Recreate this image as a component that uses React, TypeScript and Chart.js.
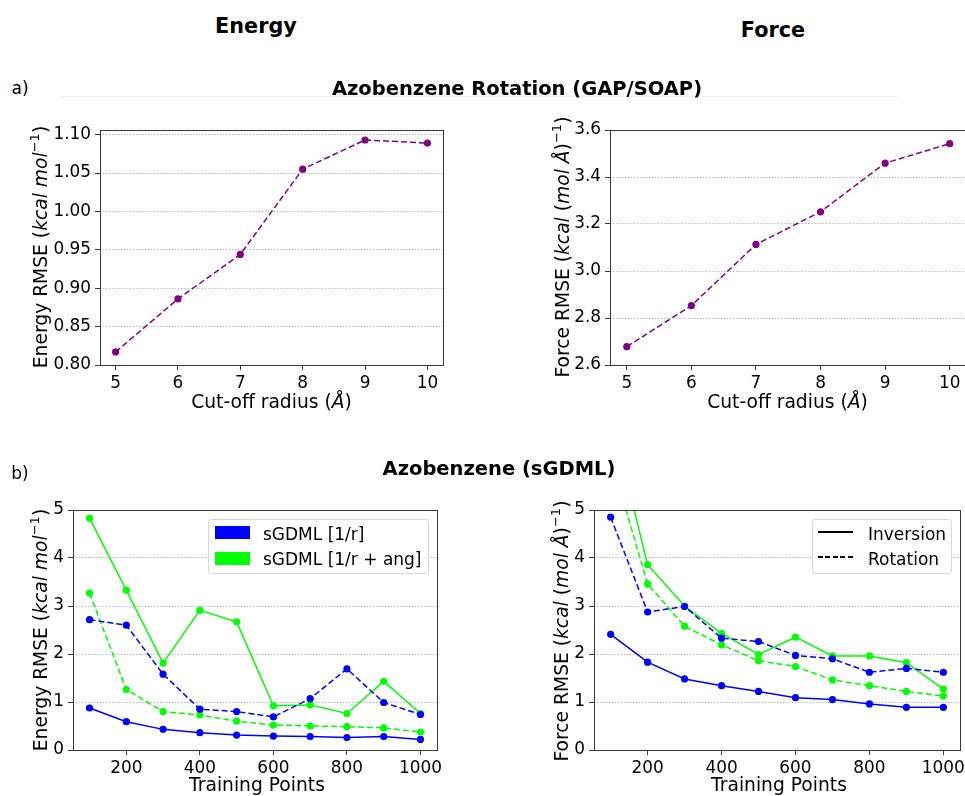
import React, { useEffect, useRef } from "react";
import { Chart, registerables } from "chart.js";

Chart.register(...registerables);

// ---------- data ----------
const cutoffRadius = [5, 6, 7, 8, 9, 10];
const gapEnergyRotation = [0.817, 0.886, 0.944, 1.055, 1.093, 1.089];
const gapForceRotation = [2.678, 2.853, 3.113, 3.252, 3.459, 3.542];

const trainingPoints = [100, 200, 300, 400, 500, 600, 700, 800, 900, 1000];
const energyInversion1r = [0.875, 0.59, 0.43, 0.36, 0.31, 0.29, 0.28, 0.26, 0.28, 0.22];
const energyRotation1r = [2.715, 2.6, 1.58, 0.85, 0.8, 0.69, 1.07, 1.69, 0.99, 0.74];
const energyInversionAng = [4.83, 3.33, 1.81, 2.91, 2.67, 0.92, 0.94, 0.76, 1.43, 0.76];
const energyRotationAng = [3.27, 1.26, 0.8, 0.73, 0.6, 0.52, 0.5, 0.49, 0.46, 0.375];

const forceInversion1r = [2.41, 1.83, 1.48, 1.34, 1.22, 1.09, 1.05, 0.96, 0.89, 0.89];
const forceRotation1r = [4.85, 2.875, 2.99, 2.33, 2.26, 1.97, 1.9, 1.62, 1.7, 1.62];
const forceInversionAng = [7.0, 3.86, 3.0, 2.43, 1.99, 2.35, 1.96, 1.96, 1.82, 1.27];
const forceRotationAng = [6.1, 3.46, 2.58, 2.19, 1.86, 1.74, 1.46, 1.34, 1.22, 1.125];

const cutoffTicks = [5, 6, 7, 8, 9, 10];
const energyGapTicks = [0.8, 0.85, 0.9, 0.95, 1.0, 1.05, 1.1];
const forceGapTicks = [2.6, 2.8, 3.0, 3.2, 3.4, 3.6];
const trainingTicks = [200, 400, 600, 800, 1000];
const rmseTicks = [0, 1, 2, 3, 4, 5];

const legendColorLabels = ["sGDML [1/r]", "sGDML [1/r + ang]"];
const legendStyleLabels = ["Inversion", "Rotation"];

// ---------- styles ----------
const FONT = "'DejaVu Sans', sans-serif";
const PURPLE = "#800080";
const BLUE = "#0000ff";
const GREEN = "#00ff00";
const DASH = [6, 3];
const TICK_SIZE = 16.9;
const LABEL_SIZE = 18.7;

function series(xs: number[], ys: number[], color: string, dashed: boolean) {
  return {
    data: xs.map((x, i) => ({ x, y: ys[i] })),
    borderColor: color,
    backgroundColor: color,
    pointBackgroundColor: color,
    pointBorderWidth: 0,
    pointRadius: 3.6,
    borderWidth: 1.5,
    borderDash: dashed ? DASH : [],
    tension: 0,
    clip: 0,
  };
}

const framePlugin = {
  id: "frame",
  afterDatasetsDraw(chart: any) {
    const { ctx, chartArea } = chart;
    ctx.save();
    ctx.strokeStyle = "#3a3a3a";
    ctx.lineWidth = 1;
    ctx.setLineDash([]);
    ctx.strokeRect(
      Math.round(chartArea.left) + 0.5,
      Math.round(chartArea.top) + 0.5,
      Math.round(chartArea.right - chartArea.left),
      Math.round(chartArea.bottom - chartArea.top)
    );
    ctx.restore();
  },
};

type Box = { left: number; top: number; width: number; height: number };
type Area = { left: number; top: number; right: number; bottom: number };

function makeConfig(
  datasets: any[],
  canvas: Box,
  area: Area,
  xRange: [number, number],
  xTicks: number[],
  yRange: [number, number],
  yTicks: number[],
  yFmt: (v: number) => string
) {
  const yW = area.left - canvas.left;
  const padTop = area.top - canvas.top;
  const padRight = canvas.left + canvas.width - area.right;
  const xH = canvas.top + canvas.height - area.bottom;
  return {
    type: "line",
    data: { datasets },
    plugins: [framePlugin],
    options: {
      animation: false,
      responsive: false,
      devicePixelRatio: 1,
      layout: { padding: { left: 0, top: padTop, right: padRight, bottom: 0 } },
      plugins: { legend: { display: false }, tooltip: { enabled: false } },
      scales: {
        x: {
          type: "linear",
          min: xRange[0],
          max: xRange[1],
          afterBuildTicks: (s: any) => {
            s.ticks = xTicks.map((v) => ({ value: v }));
          },
          afterFit: (s: any) => {
            s.height = xH;
          },
          ticks: {
            font: { family: FONT, size: TICK_SIZE },
            color: "#000",
            padding: 3,
            maxRotation: 0,
            autoSkip: false,
            callback: (v: number) => String(v),
          },
          grid: {
            drawOnChartArea: false,
            drawTicks: true,
            tickLength: 5,
            tickColor: "#3a3a3a",
            tickWidth: 1,
          },
          border: { display: false },
        },
        y: {
          type: "linear",
          min: yRange[0],
          max: yRange[1],
          afterBuildTicks: (s: any) => {
            s.ticks = yTicks.map((v) => ({ value: v }));
          },
          afterFit: (s: any) => {
            s.width = yW;
          },
          ticks: {
            font: { family: FONT, size: TICK_SIZE },
            color: "#000",
            padding: 4,
            autoSkip: false,
            callback: (v: number) => yFmt(v),
          },
          grid: {
            color: "#a8a8a8",
            lineWidth: 0.8,
            drawTicks: true,
            tickLength: 5,
            tickColor: "#3a3a3a",
            tickWidth: 1,
            tickBorderDash: [],
          },
          border: { display: false, dash: [1.5, 1.5] },
        },
      },
    },
  };
}

function ChartBox({ box, config }: { box: Box; config: any }) {
  const ref = useRef<HTMLCanvasElement | null>(null);
  useEffect(() => {
    if (!ref.current) return;
    const chart = new Chart(ref.current, config);
    return () => chart.destroy();
  }, []);
  return (
    <canvas
      ref={ref}
      width={box.width}
      height={box.height}
      style={{
        position: "absolute",
        left: box.left,
        top: box.top,
        width: box.width,
        height: box.height,
      }}
    />
  );
}

function Txt({
  x,
  y,
  size,
  bold,
  rotate,
  children,
}: {
  x: number;
  y: number;
  size: number;
  bold?: boolean;
  rotate?: boolean;
  children: any;
}) {
  return (
    <div
      style={{
        position: "absolute",
        left: x,
        top: y,
        transform: `translate(-50%, -50%)${rotate ? " rotate(-90deg)" : ""}`,
        fontFamily: FONT,
        fontSize: size,
        fontWeight: bold ? "bold" : "normal",
        lineHeight: 1,
        whiteSpace: "nowrap",
        color: "#000",
      }}
    >
      {children}
    </div>
  );
}

const supStyle = { fontSize: "0.7em", verticalAlign: "0.55em", lineHeight: 0 } as any;

const EnergyLabel = () => (
  <span>
    Energy RMSE (<i>kcal mol</i>
    <sup style={supStyle}>−1</sup>)
  </span>
);
const ForceLabel = () => (
  <span>
    Force RMSE (<i>kcal</i> (<i>mol Å</i>)<sup style={supStyle}>−1</sup>)
  </span>
);

// ---------- layout ----------
const c1: Box = { left: 0, top: 100, width: 460, height: 310 };
const a1: Area = { left: 100, top: 130, right: 443, bottom: 365 };
const c2: Box = { left: 510, top: 100, width: 480, height: 310 };
const a2: Area = { left: 610, top: 130, right: 966.5, bottom: 365 };
const c3: Box = { left: 0, top: 480, width: 460, height: 316 };
const a3: Area = { left: 73, top: 510, right: 437, bottom: 750 };
const c4: Box = { left: 500, top: 480, width: 480, height: 316 };
const a4: Area = { left: 594, top: 510, right: 960, bottom: 750 };

const fmt2 = (v: number) => v.toFixed(2);
const fmt1 = (v: number) => v.toFixed(1);
const fmt0 = (v: number) => String(v);

const cfg1 = makeConfig(
  [series(cutoffRadius, gapEnergyRotation, PURPLE, true)],
  c1, a1, [4.75, 10.25], cutoffTicks, [0.8, 1.106], energyGapTicks, fmt2
);
const cfg2 = makeConfig(
  [series(cutoffRadius, gapForceRotation, PURPLE, true)],
  c2, a2, [4.74, 10.26], cutoffTicks, [2.6, 3.6], forceGapTicks, fmt1
);
const cfg3 = makeConfig(
  [
    series(trainingPoints, energyInversion1r, BLUE, false),
    series(trainingPoints, energyRotation1r, BLUE, true),
    series(trainingPoints, energyInversionAng, GREEN, false),
    series(trainingPoints, energyRotationAng, GREEN, true),
  ],
  c3, a3, [55, 1045], trainingTicks, [0, 5], rmseTicks, fmt0
);
const cfg4 = makeConfig(
  [
    series(trainingPoints, forceInversion1r, BLUE, false),
    series(trainingPoints, forceRotation1r, BLUE, true),
    series(trainingPoints, forceInversionAng, GREEN, false),
    series(trainingPoints, forceRotationAng, GREEN, true),
  ],
  c4, a4, [55, 1045], trainingTicks, [0, 5], rmseTicks, fmt0
);

const legendBox = {
  position: "absolute",
  background: "rgba(255,255,255,0.8)",
  border: "1px solid #d6d6d6",
  borderRadius: 3,
  boxSizing: "border-box",
} as any;

const legendText = {
  position: "absolute",
  fontFamily: FONT,
  fontSize: 17,
  lineHeight: "20px",
  whiteSpace: "nowrap",
} as any;

export default function App() {
  return (
    <div
      style={{
        position: "absolute",
        left: 0,
        top: 0,
        width: 965,
        height: 796,
        overflow: "hidden",
        background: "#fff",
      }}
    >
      <ChartBox box={c1} config={cfg1} />
      <ChartBox box={c2} config={cfg2} />
      <ChartBox box={c3} config={cfg3} />
      <ChartBox box={c4} config={cfg4} />

      <Txt x={256} y={26} size={20.8} bold>Energy</Txt>
      <Txt x={773} y={30} size={20.8} bold>Force</Txt>

      <Txt x={20} y={88} size={17}>a)</Txt>
      <div style={{ position: "absolute", left: 60, top: 96, width: 838, height: 1, background: "#efefef" }} />
      <Txt x={517} y={89} size={19.5} bold>Azobenzene Rotation (GAP/SOAP)</Txt>

      <Txt x={20} y={473} size={17}>b)</Txt>
      <Txt x={499} y={469} size={19.5} bold>Azobenzene (sGDML)</Txt>

      <Txt x={41} y={247} size={LABEL_SIZE} rotate><EnergyLabel /></Txt>
      <Txt x={563} y={247} size={LABEL_SIZE} rotate><ForceLabel /></Txt>
      <Txt x={41} y={630} size={LABEL_SIZE} rotate><EnergyLabel /></Txt>
      <Txt x={562} y={631} size={LABEL_SIZE} rotate><ForceLabel /></Txt>

      <Txt x={271.5} y={402} size={LABEL_SIZE}>Cut-off radius (<i>Å</i>)</Txt>
      <Txt x={787.5} y={402} size={LABEL_SIZE}>Cut-off radius (<i>Å</i>)</Txt>
      <Txt x={257} y={785} size={LABEL_SIZE}>Training Points</Txt>
      <Txt x={779} y={785} size={LABEL_SIZE}>Training Points</Txt>

      {/* legend: colours */}
      <div style={{ ...legendBox, left: 208, top: 519, width: 221, height: 55 }} />
      <div style={{ position: "absolute", left: 215, top: 526, width: 35, height: 13, background: BLUE }} />
      <div style={{ position: "absolute", left: 215, top: 552, width: 35, height: 13, background: GREEN }} />
      <div style={{ ...legendText, left: 263, top: 524 }}>{legendColorLabels[0]}</div>
      <div style={{ ...legendText, left: 263, top: 549 }}>{legendColorLabels[1]}</div>

      {/* legend: line styles */}
      <div style={{ ...legendBox, left: 812, top: 519, width: 140, height: 55 }} />
      <div style={{ position: "absolute", left: 818, top: 531, width: 35, height: 1.5, background: "#000" }} />
      <div
        style={{
          position: "absolute",
          left: 818,
          top: 556,
          width: 35,
          height: 1.5,
          background: "repeating-linear-gradient(to right, #000 0px, #000 5px, transparent 5px, transparent 7.5px)",
        }}
      />
      <div style={{ ...legendText, left: 868, top: 524 }}>{legendStyleLabels[0]}</div>
      <div style={{ ...legendText, left: 868, top: 549 }}>{legendStyleLabels[1]}</div>
    </div>
  );
}
